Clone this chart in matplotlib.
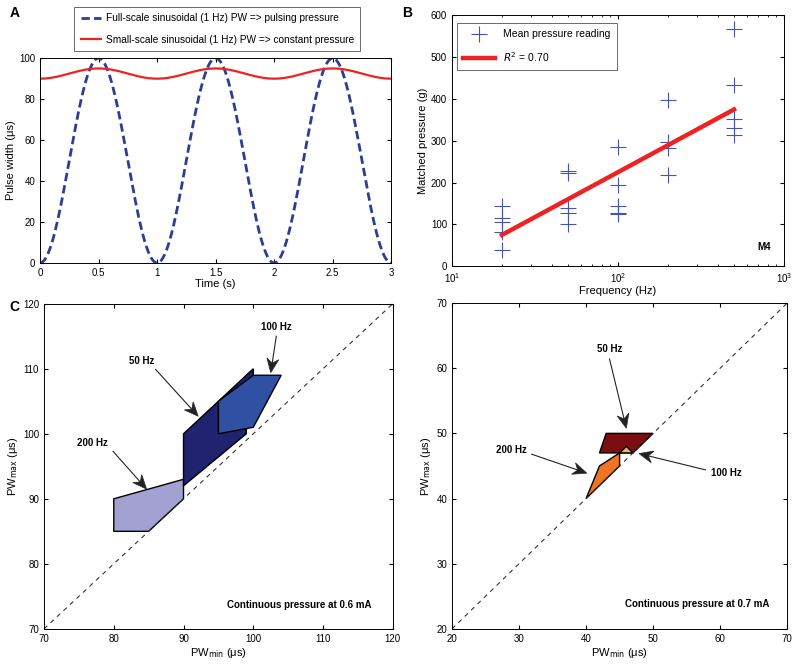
import numpy as np
import matplotlib
matplotlib.use('Agg')
import matplotlib.pyplot as plt
from matplotlib.patches import Polygon

plt.rcParams['font.family'] = ['Liberation Sans', 'DejaVu Sans']
plt.rcParams['font.size'] = 7
plt.rcParams['axes.linewidth'] = 0.7
plt.rcParams['xtick.direction'] = 'in'
plt.rcParams['ytick.direction'] = 'in'
plt.rcParams['xtick.top'] = True
plt.rcParams['ytick.right'] = True
plt.rcParams['xtick.major.size'] = 3
plt.rcParams['ytick.major.size'] = 3

# panel A: sinusoidal pulse width (1 Hz)
sine_freq = 1.0
full_offset, full_amp = 50, 50
small_offset, small_amp = 92.5, 2.5
t_end = 3

# panel B: matched pressure
freqs = [20] * 5 + [50] * 5 + [100] * 5 + [200] * 4 + [500] * 5
pressures = [145, 115, 105, 82, 40,
             228, 224, 140, 128, 100,
             285, 195, 145, 128, 124,
             397, 297, 282, 219,
             567, 433, 353, 330, 313]
fit_x = [20, 500]
fit_y = [75, 375]

# panel C: 0.6 mA regions
c_200 = [(80, 90), (90, 93), (90, 90), (85, 85), (80, 85)]
c_50 = [(90, 100), (100, 110), (100, 108), (99, 100.5), (99, 100), (90, 92)]
c_100 = [(95, 105), (100, 109), (104, 109), (100, 101), (95, 100)]

# panel D: 0.7 mA regions
d_50 = [(42, 47), (43, 50), (50, 50), (47, 47)]
d_100 = [(45, 47), (46, 48), (47, 47)]
d_200 = [(40, 40), (42, 45), (45, 47), (45, 45)]

fig = plt.figure(figsize=(8, 6.69), dpi=100)

# ---- A
axA = fig.add_axes([0.05, 0.607, 0.439, 0.306])
t = np.linspace(0, t_end, 600)
axA.plot(t, full_offset - full_amp * np.cos(2 * np.pi * sine_freq * t), '--',
         color='#2a3f94', lw=2, dashes=(3, 1.5),
         label='Full-scale sinusoidal (1 Hz) PW => pulsing pressure')
axA.plot(t, small_offset - small_amp * np.cos(2 * np.pi * sine_freq * t),
         color='#ee2222', lw=1.6,
         label='Small-scale sinusoidal (1 Hz) PW => constant pressure')
axA.set_xlim(0, 3)
axA.set_ylim(0, 100)
axA.set_xticks([0, 0.5, 1, 1.5, 2, 2.5, 3])
axA.set_xticklabels(['0', '0.5', '1', '1.5', '2', '2.5', '3'])
axA.set_yticks(range(0, 101, 20))
axA.set_xlabel('Time (s)', fontsize=8, labelpad=1)
axA.set_ylabel('Pulse width (μs)', fontsize=8, labelpad=2)
leg = axA.legend(loc='lower center', bbox_to_anchor=(0.505, 1.01), fontsize=7.3,
                 fancybox=False, edgecolor='#444444', handlelength=2.0,
                 handletextpad=0.5, borderpad=0.6, labelspacing=1.15)
leg.get_frame().set_linewidth(0.7)

# ---- B
axB = fig.add_axes([0.565, 0.602, 0.415, 0.375])
axB.plot(freqs, pressures, '+', color='#4455aa', ms=11, mew=0.8,
         label='Mean pressure reading')
axB.plot(fit_x, fit_y, color='#ee2222', lw=3.2, label='$R^2$ = 0.70')
axB.set_xscale('log')
axB.set_xlim(10, 1000)
axB.set_ylim(0, 600)
axB.set_yticks(range(0, 601, 100))
axB.tick_params(which='minor', direction='in', top=True, size=1.5)
axB.set_xlabel('Frequency (Hz)', fontsize=8, labelpad=1)
axB.set_ylabel('Matched pressure (g)', fontsize=8, labelpad=2)
legB = axB.legend(loc='upper left', fontsize=7.5, fancybox=False,
                  edgecolor='#444444', handlelength=3, borderpad=0.6,
                  labelspacing=1.0, bbox_to_anchor=(0.0, 0.99))
legB.get_frame().set_linewidth(0.7)
axB.text(760, 45, 'M4', fontsize=7, fontweight='bold', ha='center', va='center')


def notched_arrow(ax, start, tip, head_len=14, half_w=6, notch=4.5):
    # line plus a concave arrowhead, built in pixel space
    p0 = ax.transData.transform(start)
    p1 = ax.transData.transform(tip)
    d = (p1 - p0) / np.hypot(*(p1 - p0))
    n = np.array([-d[1], d[0]])
    back = p1 - d * head_len
    inner = p1 - d * (head_len - notch)
    inv = ax.transData.inverted()
    ax.plot(*zip(start, inv.transform(inner)), color='#222222', lw=0.8)
    head = [p1, back + n * half_w, inner, back - n * half_w]
    ax.add_patch(Polygon(inv.transform(head), closed=True, facecolor='#222222',
                         edgecolor='#222222', lw=0.5))


def region_panel(ax, lo, hi, polys, notes, caption, capxy):
    ax.set_xlim(lo, hi)
    ax.set_ylim(lo, hi)
    ax.plot([lo, hi], [lo, hi], '--', color='#333333', lw=0.8, dashes=(4, 4))
    for pts, col in polys:
        ax.add_patch(Polygon(pts, closed=True, facecolor=col, edgecolor='black',
                             lw=1.0, joinstyle='miter'))
    for label, txy, start, tip in notes:
        ax.text(txy[0], txy[1], label, fontsize=7, fontweight='bold',
                ha='center', va='center')
        notched_arrow(ax, start, tip)
    ax.text(capxy[0], capxy[1], caption, fontsize=7, fontweight='bold',
            ha='center', va='center')
    ax.set_xticks(range(lo, hi + 1, 10))
    ax.set_yticks(range(lo, hi + 1, 10))
    ax.set_xlabel('PW$_{\\mathrm{min}}$ (μs)', fontsize=8, labelpad=2)
    ax.set_ylabel('PW$_{\\mathrm{max}}$ (μs)', fontsize=8, labelpad=2)


# ---- C
axC = fig.add_axes([0.055, 0.06, 0.436, 0.486])
region_panel(axC, 70, 120,
             [(c_200, '#a3a0d2'), (c_50, '#1f2370'), (c_100, '#3050a4')],
             [('50 Hz', (84, 111.2), (86, 109.9), (92.1, 102.7)),
              ('100 Hz', (103.3, 116.4), (103.3, 115), (102.5, 109.4)),
              ('200 Hz', (77, 98.6), (79.9, 97.3), (84.7, 91.5))],
             'Continuous pressure at 0.6 mA', (106.6, 73.7))

# ---- D
axD = fig.add_axes([0.565, 0.06, 0.419, 0.487])
region_panel(axD, 20, 70,
             [(d_200, '#f07426'), (d_50, '#7a0e10'), (d_100, '#f5b070')],
             [('50 Hz', (43.5, 62.9), (43.5, 61.4), (46, 50.8)),
              ('200 Hz', (28.9, 47.4), (31.9, 46.8), (40.1, 43.9)),
              ('100 Hz', (61, 43.9), (57.8, 44.4), (47.9, 46.9))],
             'Continuous pressure at 0.7 mA', (56.6, 23.8))

for lab, x, y in [('A', 0.012, 0.98), ('B', 0.503, 0.98), ('C', 0.012, 0.541)]:
    fig.text(x, y, lab, fontsize=10, fontweight='bold', ha='left', va='center')

fig.savefig('out.png', dpi=100)
